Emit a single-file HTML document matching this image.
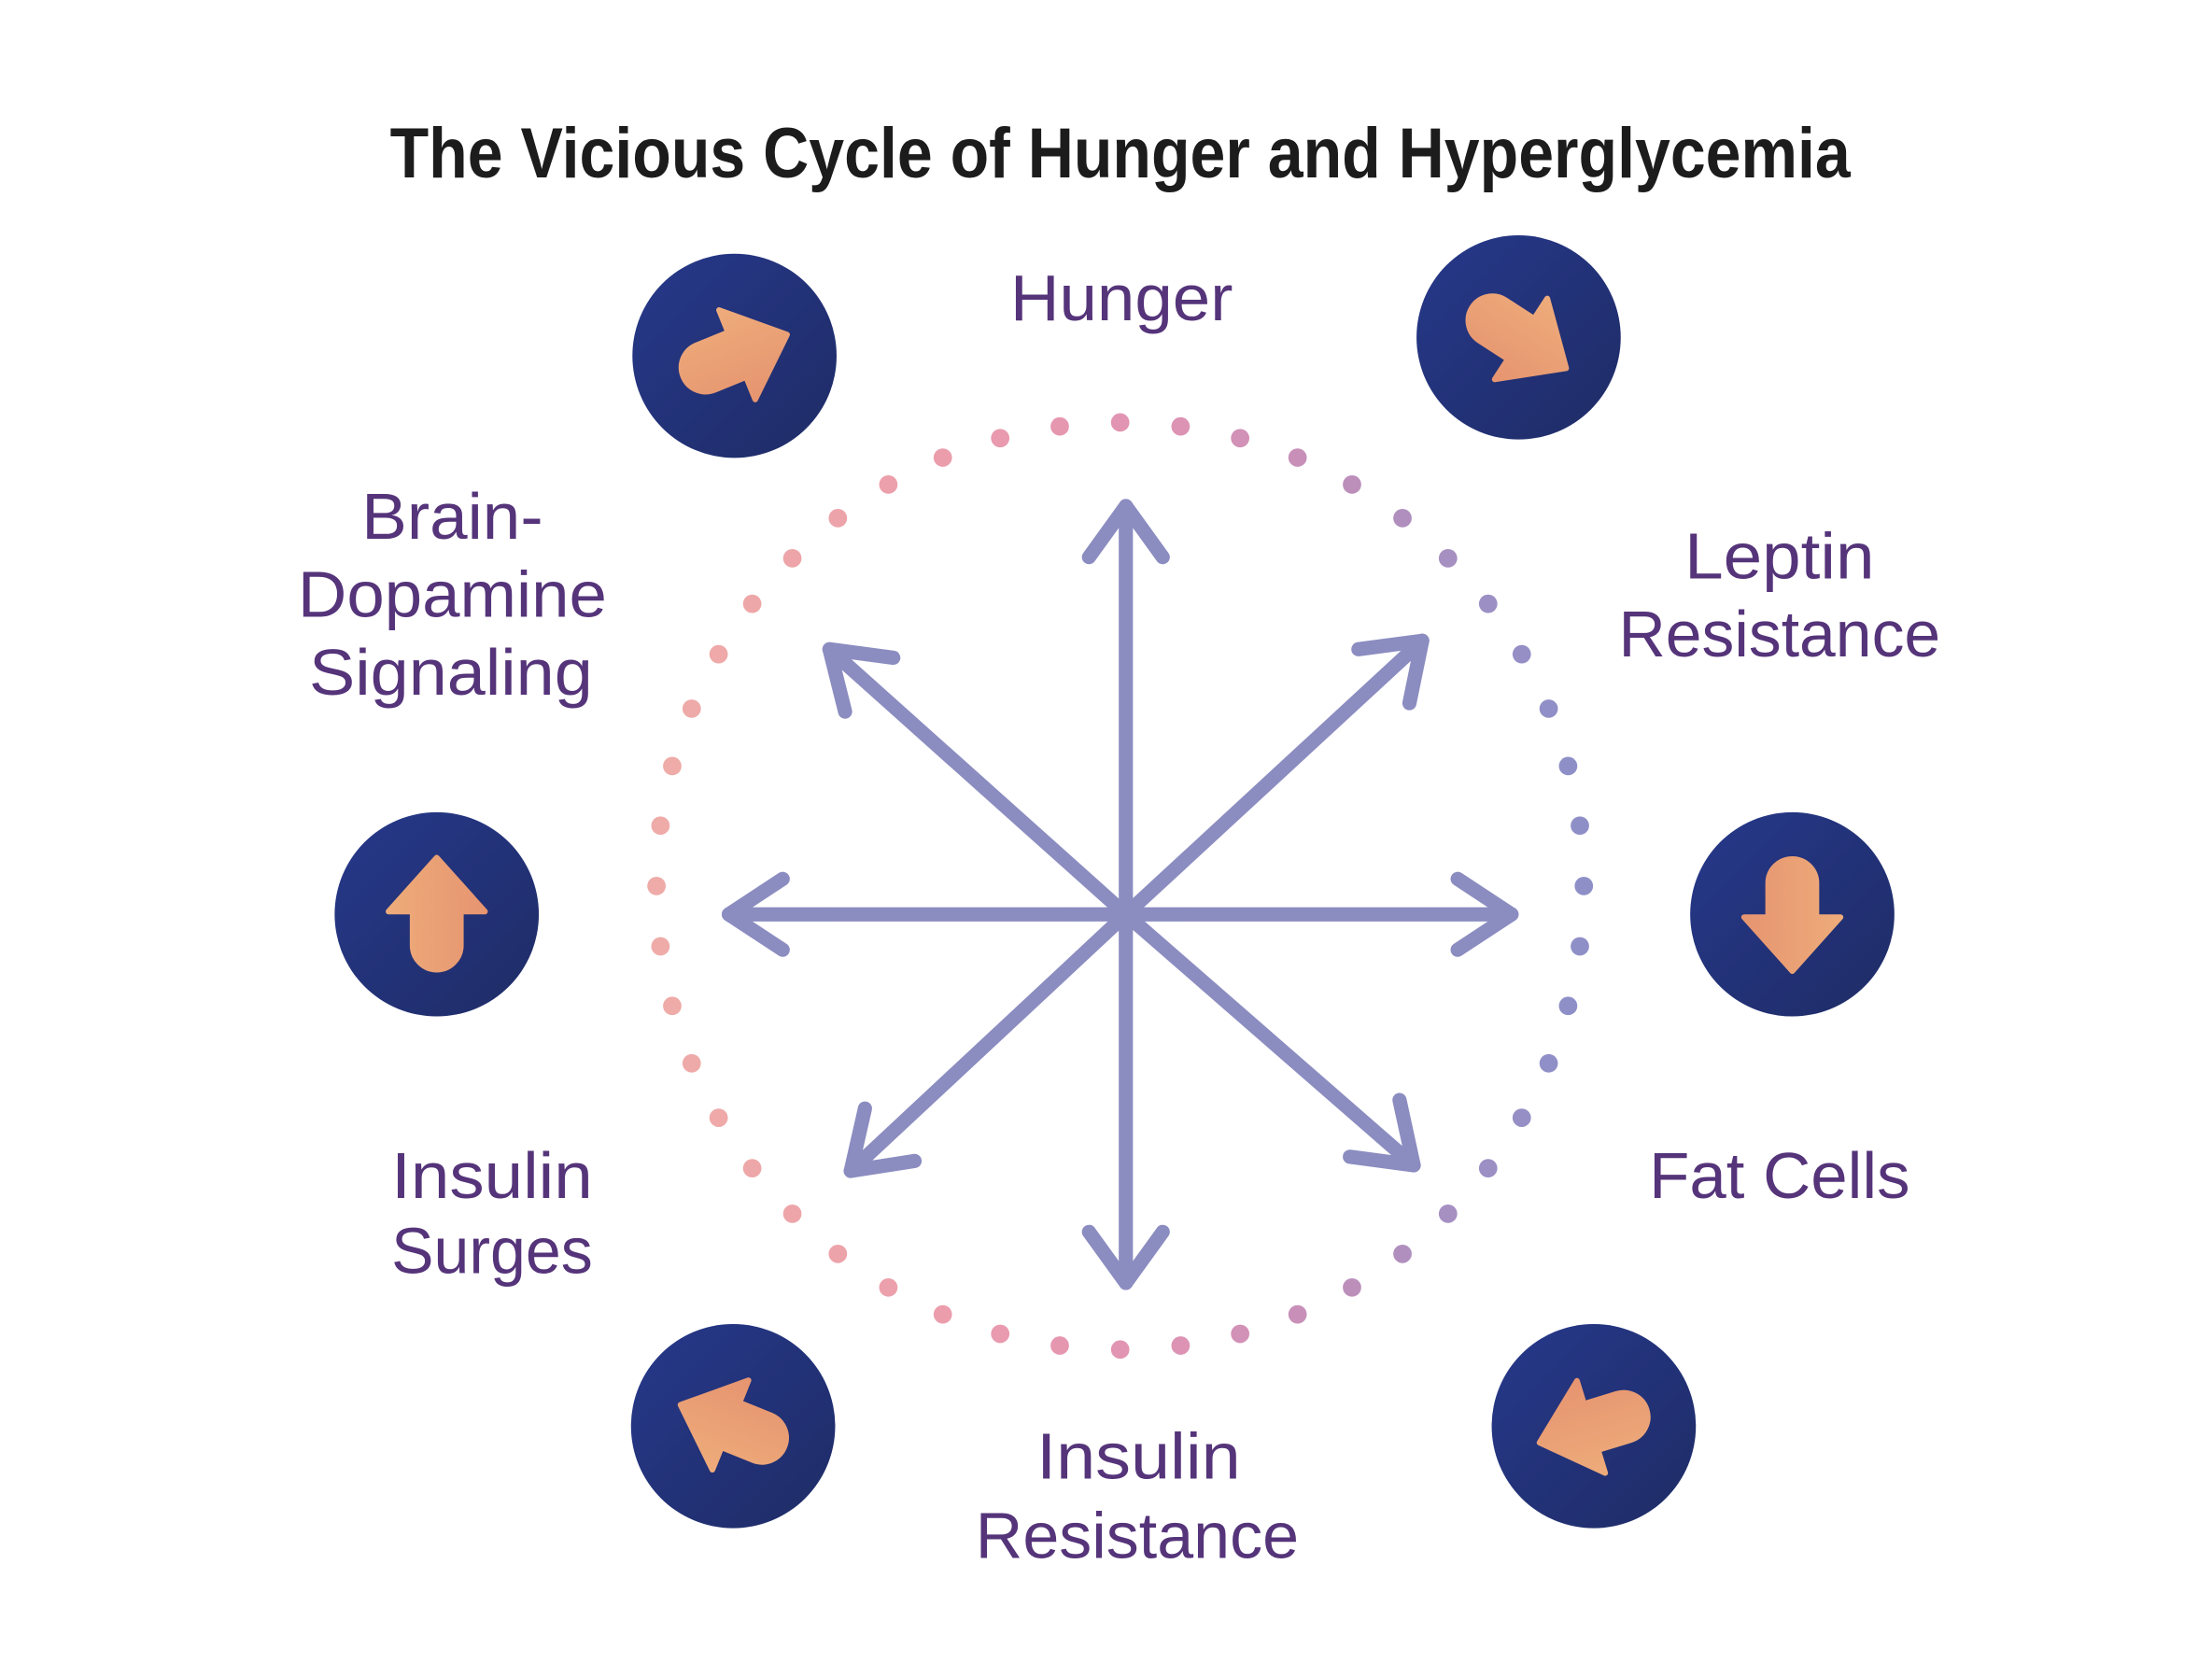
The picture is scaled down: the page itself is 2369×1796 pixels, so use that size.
<!DOCTYPE html>
<html><head><meta charset="utf-8"><style>
html,body{margin:0;padding:0;background:#fff;}
svg{display:block;}
</style></head><body>
<svg width="2369" height="1796" viewBox="0 0 1560 1183" preserveAspectRatio="none" xmlns="http://www.w3.org/2000/svg">
<defs>
<linearGradient id="cg" x1="0" y1="0" x2="1" y2="1">
<stop offset="0" stop-color="#26388a"/><stop offset="1" stop-color="#1f2c66"/>
</linearGradient>
<linearGradient id="ag" x1="0" y1="0" x2="1" y2="0">
<stop offset="0" stop-color="#eeab7a"/><stop offset="1" stop-color="#e69570"/>
</linearGradient>
<g id="ico">
<path d="M0,-40 L34,-2 L17,-2 L17,22 A17,17 0 0 1 -17,22 L-17,-2 L-34,-2 Z" fill="url(#ag)" stroke="url(#ag)" stroke-width="4" stroke-linejoin="round"/>
</g>
</defs>
<rect width="1560" height="1183" fill="#fff"/>
<text x="790" y="125" font-family="Liberation Sans, sans-serif" font-weight="bold" font-size="50" fill="#1c1c1c" text-anchor="middle" textLength="1030" lengthAdjust="spacingAndGlyphs">The Vicious Cycle of Hunger and Hyperglycemia</text>

<g stroke="#8b8cc0" stroke-width="10" stroke-linecap="round" stroke-linejoin="round" fill="none">
<line x1="794" y1="645" x2="794" y2="357"/><polyline points="768,393 794,357 820,393"/>
<line x1="794" y1="645" x2="794" y2="905"/><polyline points="768,869 794,905 820,869"/>
<line x1="794" y1="645" x2="514" y2="645"/><polyline points="552,620 514,645 552,670"/>
<line x1="794" y1="645" x2="1066" y2="645"/><polyline points="1028,620 1066,645 1028,670"/>
<line x1="794" y1="645" x2="585" y2="458"/><polyline points="596,502 585,458 630,464"/>
<line x1="794" y1="645" x2="1003" y2="452"/><polyline points="958,458 1003,452 994,496"/>
<line x1="794" y1="645" x2="600" y2="826"/><polyline points="610,782 600,826 645,819"/>
<line x1="794" y1="645" x2="997" y2="822"/><polyline points="987,776 997,822 952,816"/>
</g>

<g>
<circle cx="518" cy="251" r="72" fill="url(#cg)"/><use href="#ico" transform="translate(518,251) rotate(68)"/>
<circle cx="1071" cy="238" r="72" fill="url(#cg)"/><use href="#ico" transform="translate(1071,238) rotate(123)"/>
<circle cx="308" cy="645" r="72" fill="url(#cg)"/><use href="#ico" transform="translate(308,645)"/>
<circle cx="1264" cy="645" r="72" fill="url(#cg)"/><use href="#ico" transform="translate(1264,645) rotate(180)"/>
<circle cx="517" cy="1006" r="72" fill="url(#cg)"/><use href="#ico" transform="translate(517,1006) rotate(-68)"/>
<circle cx="1124" cy="1006" r="72" fill="url(#cg)"/><use href="#ico" transform="translate(1124,1006) rotate(-107)"/>
</g>

<g font-family="Liberation Sans, sans-serif" font-size="46" fill="#55347a" text-anchor="middle">
<text x="791" y="226" textLength="157" lengthAdjust="spacingAndGlyphs">Hunger</text>
<text x="319" y="380" textLength="128" lengthAdjust="spacingAndGlyphs">Brain-</text>
<text x="319" y="435" textLength="218" lengthAdjust="spacingAndGlyphs">Dopamine</text>
<text x="318" y="490" textLength="200" lengthAdjust="spacingAndGlyphs">Signaling</text>
<text x="1255" y="408" textLength="134" lengthAdjust="spacingAndGlyphs">Leptin</text>
<text x="1255" y="463" textLength="227" lengthAdjust="spacingAndGlyphs">Resistance</text>
<text x="347" y="845" textLength="142" lengthAdjust="spacingAndGlyphs">Insulin</text>
<text x="347" y="898" textLength="142" lengthAdjust="spacingAndGlyphs">Surges</text>
<text x="1255" y="845" textLength="184" lengthAdjust="spacingAndGlyphs">Fat Cells</text>
<text x="803" y="1043" textLength="144" lengthAdjust="spacingAndGlyphs">Insulin</text>
<text x="802" y="1099" textLength="228" lengthAdjust="spacingAndGlyphs">Resistance</text>
</g>

<g>
<circle cx="790" cy="298" r="6.5" fill="#e295b2"/>
<circle cx="832.6" cy="300.8" r="6.5" fill="#dc93b4"/>
<circle cx="874.6" cy="309.1" r="6.5" fill="#d291b6"/>
<circle cx="915.1" cy="322.8" r="6.5" fill="#c890b9"/>
<circle cx="953.5" cy="341.8" r="6.5" fill="#bc8fbb"/>
<circle cx="989.1" cy="365.5" r="6.5" fill="#b08fbe"/>
<circle cx="1021.2" cy="393.8" r="6.5" fill="#a68fc1"/>
<circle cx="1049.5" cy="425.9" r="6.5" fill="#9c8fc4"/>
<circle cx="1073.2" cy="461.5" r="6.5" fill="#958fc6"/>
<circle cx="1092.2" cy="499.9" r="6.5" fill="#918fc7"/>
<circle cx="1105.9" cy="540.4" r="6.5" fill="#8f8fc8"/>
<circle cx="1114.2" cy="582.4" r="6.5" fill="#8f8fc8"/>
<circle cx="1117" cy="625" r="6.5" fill="#8f8fc8"/>
<circle cx="1114.2" cy="667.6" r="6.5" fill="#8f8fc8"/>
<circle cx="1105.9" cy="709.6" r="6.5" fill="#8f8fc8"/>
<circle cx="1092.2" cy="750.1" r="6.5" fill="#918fc7"/>
<circle cx="1073.2" cy="788.5" r="6.5" fill="#958fc6"/>
<circle cx="1049.5" cy="824.1" r="6.5" fill="#9c8fc4"/>
<circle cx="1021.2" cy="856.2" r="6.5" fill="#a68fc1"/>
<circle cx="989.1" cy="884.5" r="6.5" fill="#b08fbe"/>
<circle cx="953.5" cy="908.2" r="6.5" fill="#bc8fbb"/>
<circle cx="915.1" cy="927.2" r="6.5" fill="#c890b9"/>
<circle cx="874.6" cy="940.9" r="6.5" fill="#d291b6"/>
<circle cx="832.6" cy="949.2" r="6.5" fill="#dc93b4"/>
<circle cx="790" cy="952" r="6.5" fill="#e295b2"/>
<circle cx="747.4" cy="949.2" r="6.5" fill="#e697b0"/>
<circle cx="705.4" cy="940.9" r="6.5" fill="#e99aae"/>
<circle cx="664.9" cy="927.2" r="6.5" fill="#eb9dac"/>
<circle cx="626.5" cy="908.2" r="6.5" fill="#eca0ab"/>
<circle cx="590.9" cy="884.5" r="6.5" fill="#eda3aa"/>
<circle cx="558.8" cy="856.2" r="6.5" fill="#eda5a9"/>
<circle cx="530.5" cy="824.1" r="6.5" fill="#eea7a8"/>
<circle cx="506.8" cy="788.5" r="6.5" fill="#eea9a8"/>
<circle cx="487.8" cy="750.1" r="6.5" fill="#eeaaa8"/>
<circle cx="474.1" cy="709.6" r="6.5" fill="#eeaba8"/>
<circle cx="465.8" cy="667.6" r="6.5" fill="#eeaba8"/>
<circle cx="463" cy="625" r="6.5" fill="#eeaba8"/>
<circle cx="465.8" cy="582.4" r="6.5" fill="#eeaba8"/>
<circle cx="474.1" cy="540.4" r="6.5" fill="#eeaba8"/>
<circle cx="487.8" cy="499.9" r="6.5" fill="#eeaaa8"/>
<circle cx="506.8" cy="461.5" r="6.5" fill="#eea9a8"/>
<circle cx="530.5" cy="425.9" r="6.5" fill="#eea7a8"/>
<circle cx="558.8" cy="393.8" r="6.5" fill="#eda5a9"/>
<circle cx="590.9" cy="365.5" r="6.5" fill="#eda3aa"/>
<circle cx="626.5" cy="341.8" r="6.5" fill="#eca0ab"/>
<circle cx="664.9" cy="322.8" r="6.5" fill="#eb9dac"/>
<circle cx="705.4" cy="309.1" r="6.5" fill="#e99aae"/>
<circle cx="747.4" cy="300.8" r="6.5" fill="#e697b0"/>
</g>
</svg>
</body></html>
